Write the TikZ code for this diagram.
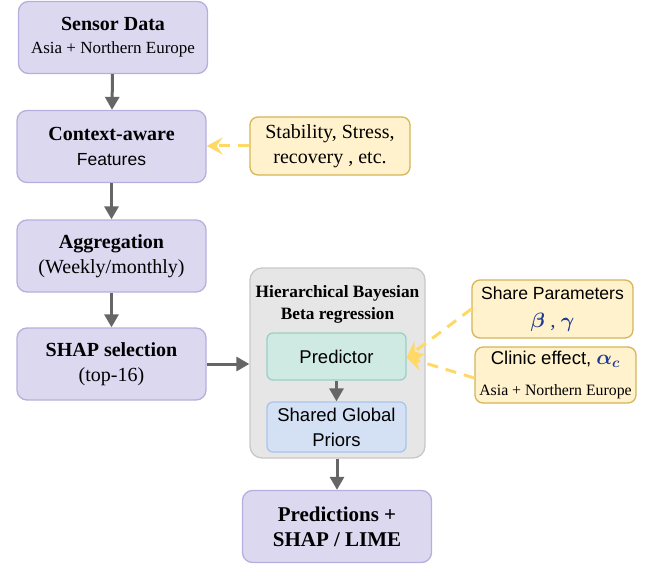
\documentclass[tikz,border=0pt]{standalone}
\usepackage{amsmath}
\usepackage{fontspec}
\setmainfont{Liberation Serif}
\setsansfont{Liberation Sans}
\usetikzlibrary{arrows.meta}
\definecolor{pfill}{HTML}{DCD8F0}
\definecolor{pline}{HTML}{B8AEDD}
\definecolor{yfill}{HTML}{FFF2CC}
\definecolor{yline}{HTML}{D6B656}
\definecolor{yarrow}{HTML}{FFD966}
\definecolor{gfill}{HTML}{E6E6E6}
\definecolor{gline}{HTML}{C8C8C8}
\definecolor{tfill}{HTML}{CFEAE3}
\definecolor{tline}{HTML}{9CCFC2}
\definecolor{bfill}{HTML}{D4E1F5}
\definecolor{bline}{HTML}{A9C4EB}
\definecolor{arr}{HTML}{666666}
\definecolor{mathblue}{HTML}{1F3A93}
\tikzset{
  pbox/.style={draw=pline, fill=pfill, line width=1.3pt, rounded corners=10pt, minimum width=189pt, minimum height=72pt, align=center, inner sep=0pt, font=\fontsize{20}{25}\selectfont},
  ybox/.style={draw=yline, fill=yfill, line width=1.3pt, rounded corners=8pt, align=center, inner sep=0pt},
  ibox/.style={line width=1.3pt, rounded corners=6pt, minimum width=139pt, align=center, inner sep=0pt, font=\sffamily\fontsize{18.5}{25}\selectfont},
  flow/.style={draw=arr, line width=3pt, -{Triangle[length=13pt,width=14pt]}},
  dflow/.style={draw=yarrow, line width=3pt, dash pattern=on 11pt off 8pt, -{Stealth[length=16pt,width=17pt,inset=6pt]}},
}
\begin{document}
\begin{tikzpicture}[x=1pt,y=-1pt]
\useasboundingbox (0,0) rectangle (645,567);
% main chain
\node[pbox, font=\fontsize{20}{23}\selectfont] (sensor) at (113,37.5) {\textbf{Sensor Data}\\{\fontsize{17}{23}\selectfont Asia + Northern Europe}};
\node[pbox] (context) at (111.5,146.5) {\textbf{Context-aware}\\{\sffamily\fontsize{17.5}{25}\selectfont Features}};
\node[pbox] (agg) at (111.5,256) {\textbf{Aggregation}\\(Weekly/monthly)};
\node[pbox] (shap) at (111.5,364) {\textbf{SHAP selection}\\(top-16)};
% container
\node[draw=gline, fill=gfill, line width=1.3pt, rounded corners=12pt, minimum width=175pt, minimum height=190pt, inner sep=0pt] (hb) at (337.5,363) {};
\node[font=\bfseries\fontsize{17.3}{22}\selectfont, align=center] (hbt) at (337.5,304) {Hierarchical Bayesian\\Beta regression};
\node[ibox, draw=tline, fill=tfill, minimum height=47pt] (pred) at (336.5,356.5) {Predictor};
\node[ibox, draw=bline, fill=bfill, minimum height=50pt] (prior) at (336.5,427) {Shared Global\\Priors};
% output
\node[pbox, font=\bfseries\fontsize{21}{25}\selectfont] (out) at (337,526.5) {Predictions +\\SHAP / LIME};
% side notes
\node[ybox, minimum width=160pt, minimum height=58pt, font=\fontsize{20}{25}\selectfont] (stab) at (330,146) {Stability, Stress,\\recovery , etc.};
\node[ybox, minimum width=161pt, minimum height=58pt, font=\fontsize{18}{28}\selectfont] (share) at (552.5,309) {{\sffamily\fontsize{17.6}{28}\selectfont Share Parameters}\\{\fontsize{21}{28}\selectfont\color{mathblue}$\boldsymbol{\beta}$ \textit{,} $\boldsymbol{\gamma}$}};
\node[ybox, minimum width=161pt, minimum height=56pt, font=\fontsize{18}{31}\selectfont] (clinic) at (555.5,375) {{\sffamily\fontsize{18.5}{31}\selectfont Clinic effect, }{\fontsize{21}{31}\selectfont\color{mathblue}$\boldsymbol{\alpha_c}$}\\{\fontsize{15.8}{31}\selectfont Asia + Northern Europe}};
% connectors
\draw[flow] (sensor) -- (context);
\draw[flow] (context) -- (agg);
\draw[flow] (agg) -- (shap);
\draw[flow] (shap.east) -- (hb.west |- shap.east);
\draw[flow] (pred) -- (prior);
\draw[flow] (hb.south -| out.north) -- (out.north);
\draw[dflow] (stab.west) -- (context.east |- stab.west);
\coordinate (tip) at ([yshift=-1pt]pred.east);
\draw[dflow] (share.west) -- (tip);
\draw[dflow] ([yshift=-3pt]clinic.west) -- (tip);
\end{tikzpicture}
\end{document}
